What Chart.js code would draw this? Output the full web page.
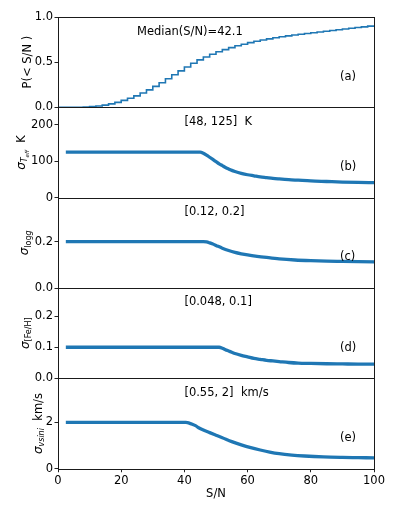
<!DOCTYPE html>
<html><head><meta charset="utf-8">
<script src="https://cdn.jsdelivr.net/npm/chart.js@4/dist/chart.umd.min.js"></script>
<style>
html,body{margin:0;padding:0;background:#fff;width:399px;height:513px;overflow:hidden}
canvas{position:absolute;left:0;top:0}
</style></head><body>
<canvas id="c0" width="399" height="513"></canvas>
<canvas id="c1" width="399" height="513"></canvas>
<canvas id="c2" width="399" height="513"></canvas>
<canvas id="c3" width="399" height="513"></canvas>
<canvas id="c4" width="399" height="513"></canvas>
<script>
// ---- data ----
const cdfEdges = [0,2,4,6,8,10,12,14,16,18,20,22,24,26,28,30,32,34,36,38,40,42,44,46,48,50,52,54,56,58,60,62,64,66,68,70,72,74,76,78,80,82,84,86,88,90,92,94,96,98,100];
const cdfValues = [0,0,0,0,0.003,0.008,0.015,0.025,0.038,0.055,0.077,0.1,0.127,0.158,0.193,0.232,0.273,0.316,0.36,0.404,0.447,0.488,0.525,0.558,0.588,0.615,0.639,0.661,0.681,0.699,0.716,0.731,0.745,0.758,0.770,0.781,0.791,0.800,0.809,0.818,0.826,0.834,0.842,0.850,0.859,0.867,0.875,0.883,0.891,0.899,0.906];

const teffSN = [3,45,46,47,48,49,50,51,52,53,54,55,56,58,60,62,64,66,68,70,73,76,80,85,90,95,100];
const teffSigma = [125,125,122,117,111,105,99,93,88,83,79,75,72,67,63,60,57,55,53,51.5,49.5,48,46,44.5,43,42,41.5];

const loggSN = [3,46,47,48,49,50,52,54,56,58,60,63,66,70,75,80,85,90,95,100];
const loggSigma = [0.2,0.2,0.199,0.195,0.19,0.184,0.172,0.162,0.154,0.148,0.143,0.137,0.132,0.126,0.121,0.118,0.116,0.115,0.114,0.113];

const fehSN = [3,51,52,53,54,55,56,58,60,62,64,66,68,70,73,76,80,85,90,95,100];
const fehSigma = [0.1,0.1,0.097,0.092,0.088,0.084,0.080,0.074,0.069,0.064,0.061,0.058,0.056,0.054,0.051,0.049,0.048,0.047,0.0465,0.046,0.046];

const vsiniSN = [3,40.5,41.5,42.5,43.5,44.5,46,48,50,52,55,58,61,64,67,70,74,78,84,90,95,100];
const vsiniSigma = [2,2,1.97,1.92,1.86,1.77,1.67,1.56,1.45,1.34,1.17,1.03,0.91,0.81,0.72,0.65,0.59,0.55,0.51,0.49,0.48,0.47];

const xTicks = [0,20,40,60,80,100];
const xTickLabels = ['0','20','40','60','80','100'];
const yTicksA = [0,0.5,1.0];   const yLabelsA = ['0.0','0.5','1.0'];
const yTicksB = [0,100,200];   const yLabelsB = ['0','100','200'];
const yTicksC = [0,0.2];       const yLabelsC = ['0.0','0.2'];
const yTicksD = [0,0.1,0.2];   const yLabelsD = ['0.0','0.1','0.2'];
const yTicksE = [0,2];         const yLabelsE = ['0','2'];

const panelNotes = ['Median(S/N)=42.1','[48, 125]  K','[0.12, 0.2]','[0.048, 0.1]','[0.55, 2]  km/s'];
const noteSN = [25,40,40,40,40];
const panelTags = ['(a)','(b)','(c)','(d)','(e)'];

// ---- styling / layout ----
const FAM = '"DejaVu Sans"';
const F = '11.5px ' + FAM;
const FI = 'italic 12px ' + FAM;
const BLUE = '#1f77b4';
const TOP0 = 17, PH = 90.35, RIGHTPAD = 25, YW = 58, XH = 30;

const yTitles = [
  {bx:30.5, parts:[{t:'P(< S/N )', f:F}]},
  {bx:24.5, parts:[{t:'σ', f:FI},{t:'T', f:'italic 8px '+FAM, dy:2.5},{t:'eff', f:'italic 5.5px '+FAM, dy:4},{t:'  K', f:F}]},
  {bx:28, parts:[{t:'σ', f:FI},{t:'log', f:'8px '+FAM, dy:2.5},{t:'g', f:'italic 8px '+FAM, dy:2.5}]},
  {bx:28.5, parts:[{t:'σ', f:FI},{t:'[Fe/H]', f:'8px '+FAM, dy:2.5}]},
  {bx:41.5, parts:[{t:'σ', f:FI},{t:'vsini', f:'italic 8px '+FAM, dy:2.5},{t:'  km/s', f:F}]}
];

function drawRich(ctx, parts, bx, cy) {
  ctx.save();
  ctx.translate(bx, cy);
  ctx.rotate(-Math.PI/2);
  let total = 0;
  parts.forEach(p => { ctx.font = p.f; p.w = ctx.measureText(p.t).width; total += p.w; });
  let x = -total/2;
  ctx.textBaseline = 'alphabetic'; ctx.textAlign = 'left'; ctx.fillStyle = '#000';
  parts.forEach(p => { ctx.font = p.f; ctx.fillText(p.t, x, p.dy || 0); x += p.w; });
  ctx.restore();
}

function makePanel(i, xs, ys, yMax, yTicks, yLabels, lineOpts) {
  const isBottom = (i === 4);
  const top = TOP0 + i*PH, bottom = top + PH;
  const deco = {
    id: 'deco' + i,
    afterDraw(chart) {
      const ctx = chart.ctx, a = chart.chartArea, xs_ = chart.scales.x;
      ctx.save();
      ctx.strokeStyle = '#1a1a1a'; ctx.lineWidth = 1;
      ctx.strokeRect(Math.round(a.left)+0.5, Math.round(a.top)+0.5, Math.round(a.right)-Math.round(a.left), Math.round(a.bottom)-Math.round(a.top));
      ctx.fillStyle = '#000'; ctx.font = F; ctx.textBaseline = 'middle'; ctx.textAlign = 'left';
      const h = a.bottom - a.top;
      ctx.fillText(panelNotes[i], xs_.getPixelForValue(noteSN[i]), a.top + (1 - (i===0?0.835:0.84))*h);
      ctx.fillText(panelTags[i], 340, a.top + (1 - 0.34)*h);
      if (isBottom) {
        ctx.textAlign = 'center';
        ctx.fillText('S/N', (a.left + a.right)/2, 494);
      }
      ctx.restore();
      drawRich(ctx, yTitles[i].parts, yTitles[i].bx, (a.top + a.bottom)/2);
    }
  };
  return new Chart(document.getElementById('c' + i), {
    type: 'line',
    data: { datasets: [Object.assign({
      data: xs.map((x, k) => ({x: x, y: ys[k]})),
      borderColor: BLUE, pointRadius: 0, fill: false
    }, lineOpts)] },
    options: {
      responsive: false, animation: false, devicePixelRatio: 1,
      plugins: { legend: {display: false}, tooltip: {enabled: false} },
      layout: { padding: { left: 0, right: RIGHTPAD, top: top, bottom: 513 - bottom - (isBottom ? XH : 0) } },
      scales: {
        x: {
          type: 'linear', min: 0, max: 100, display: isBottom,
          afterBuildTicks: s => { s.ticks = xTicks.map(v => ({value: v})); },
          afterFit: s => { s.height = isBottom ? XH : 0; },
          ticks: { font: {family: 'DejaVu Sans', size: 11.5}, color: '#000', padding: 1.5, maxRotation: 0, autoSkip: false,
                   callback: (v, k) => xTickLabels[k] },
          grid: { display: true, drawOnChartArea: false, drawTicks: true, tickLength: 3.5, tickColor: '#222' },
          border: { display: false }
        },
        y: {
          type: 'linear', min: 0, max: yMax, position: 'left',
          afterBuildTicks: s => { s.ticks = yTicks.map(v => ({value: v})); },
          afterFit: s => { s.width = YW; },
          ticks: { font: {family: 'DejaVu Sans', size: 11.5}, color: '#000', padding: 1.5, autoSkip: false,
                   callback: (v, k) => yLabels[k] },
          grid: { display: true, drawOnChartArea: false, drawTicks: true, tickLength: 3.5, tickColor: '#222' },
          border: { display: false }
        }
      }
    },
    plugins: [deco]
  });
}

makePanel(0, cdfEdges, cdfValues, 1.0, yTicksA, yLabelsA, {stepped: 'before', borderWidth: 1.6});
makePanel(1, teffSN, teffSigma, 248, yTicksB, yLabelsB, {borderWidth: 3.3, cubicInterpolationMode: 'monotone', borderCapStyle: 'square'});
makePanel(2, loggSN, loggSigma, 0.39, yTicksC, yLabelsC, {borderWidth: 3.3, cubicInterpolationMode: 'monotone', borderCapStyle: 'square'});
makePanel(3, fehSN, fehSigma, 0.29, yTicksD, yLabelsD, {borderWidth: 3.3, cubicInterpolationMode: 'monotone', borderCapStyle: 'square'});
makePanel(4, vsiniSN, vsiniSigma, 3.9, yTicksE, yLabelsE, {borderWidth: 3.3, cubicInterpolationMode: 'monotone', borderCapStyle: 'square'});
</script>
</body></html>
